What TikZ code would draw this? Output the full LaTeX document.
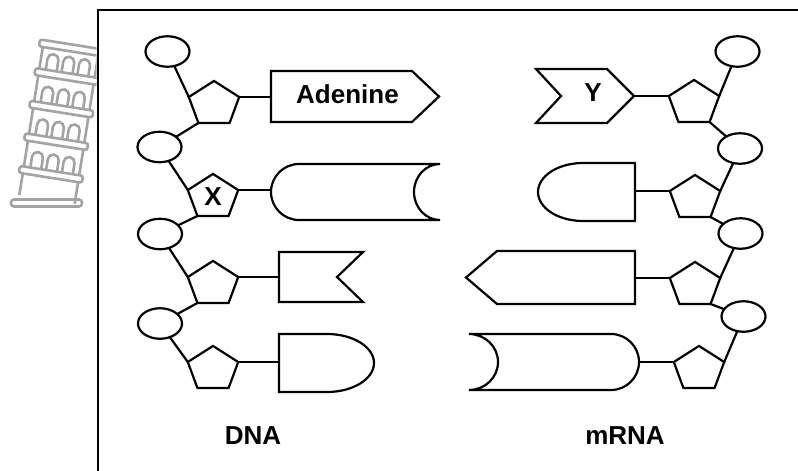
\documentclass[tikz,border=0pt]{standalone}
\usepackage{fontspec}
\setmainfont{Liberation Sans}
\usetikzlibrary{shapes.geometric,calc}

\definecolor{towergray}{RGB}{163,163,163}
\newcommand{\labelfont}{\fontsize{26}{30}\selectfont\bfseries}

\begin{document}
\begin{tikzpicture}[x=1pt, y=-1pt,
  bond/.style={line width=2.2pt},
  outline/.style={draw, line width=2.2pt},
  sugar/.style={draw, line width=2.2pt, regular polygon, regular polygon sides=5,
    minimum size=53pt, inner sep=0pt, outer sep=0pt, transform shape},
  phos/.style={draw, line width=2.2pt, ellipse, minimum width=44pt,
    minimum height=30.5pt, inner sep=0pt, outer sep=0pt},
  basebox/.style={inner sep=0pt, outer sep=0pt, font=\labelfont},
  tower/.style={draw=towergray, line width=2.6pt}
]
\useasboundingbox (0,0) rectangle (798,471);

% ---- leaning tower icon ----
\begin{scope}
  \clip (0,0) rectangle (96.5,471);
  \draw[tower, rounded corners=3pt] (11,199.5) rectangle (82,206.5);
  \begin{scope}[shift={(47,199.5)}, rotate=-9]
    % ground storey
    \draw[tower] (-28,0) -- (-28,-22) (28,0) -- (28,-22);
    % cornice slabs
    \foreach \t in {-22,-55,-88,-121,-150}
      \draw[tower, rounded corners=2.5pt] (-32,\t) rectangle (32,\t-7);
    % arcaded storeys
    \foreach \vb/\vt in {-29/-55,-62/-88,-95/-121,-128/-150}{
      \draw[tower] (-28,\vb) -- (-28,\vt) (28,\vb) -- (28,\vt);
      \foreach \u in {-16,0,16}
        \draw[tower] (\u-5.5,\vb) -- (\u-5.5,\vb-11)
          arc[start angle=180, end angle=360, radius=5.5] -- (\u+5.5,\vb);
    }
  \end{scope}
\end{scope}

% ---- frame ----
\draw[line width=2.2pt] (798,10) -- (98,10) -- (98,471);

% ---- phosphates ----
\node[phos] (c1) at (167.5,51.5) {};
\node[phos] (c2) at (159.5,147) {};
\node[phos] (c3) at (160,234) {};
\node[phos] (c4) at (160,323.5) {};
\node[phos] (r1) at (737.5,51.5) {};
\node[phos] (r2) at (740,148.5) {};
\node[phos] (r3) at (740.5,233.5) {};
\node[phos] (r4) at (743.5,316.5) {};

% ---- sugars (flattened pentagons) ----
\begin{scope}[yscale=0.877]
  \node[sugar] (p1) at (214,{(97+7.2)/0.877}) {};
  \node[sugar] (p2) at (213,{(190+7.2)/0.877}) {};
  \node[sugar] (p3) at (213,{(277+7.2)/0.877}) {};
  \node[sugar] (p4) at (213,{(362+7.2)/0.877}) {};
  \node[sugar] (q1) at (694,{(96+7.2)/0.877}) {};
  \node[sugar] (q2) at (695,{(191+7.2)/0.877}) {};
  \node[sugar] (q3) at (695,{(278+7.2)/0.877}) {};
  \node[sugar] (q4) at (699,{(362+7.2)/0.877}) {};
\end{scope}
\node[basebox] (xlab) at (213,197) {X};

% ---- DNA bases ----
\node[basebox, minimum width=153pt, minimum height=51pt] (b1) at (347.5,94) {Adenine};
\draw[outline] (271,71) -- (412,71) -- (439,96.5) -- (412,122) -- (271,122) -- cycle;

\node[basebox, minimum width=169pt, minimum height=56pt] (b2) at (355.5,192) {};
\draw[outline] (299,164) -- (440,164)
  arc[start angle=270, end angle=90, x radius=26, y radius=28]
  -- (299,220) arc[start angle=90, end angle=270, radius=28] -- cycle;

\node[basebox, minimum width=84pt, minimum height=50pt] (b3) at (321,277) {};
\draw[outline] (279,252) -- (363,252) -- (337,277) -- (363,302) -- (279,302) -- cycle;

\node[basebox, minimum width=95pt, minimum height=58pt] (b4) at (326.5,363) {};
\draw[outline] (279,334) -- (327,334)
  arc[start angle=270, end angle=450, x radius=47, y radius=29]
  -- (279,392) -- cycle;

% ---- mRNA bases ----
\node[basebox, minimum width=82pt, minimum height=54pt] (d1) at (593,93) {Y};
\draw[outline] (536,69) -- (607,69) -- (634,96) -- (607,123) -- (536,123) -- (561,96) -- cycle;

\node[basebox, minimum width=97pt, minimum height=58pt] (d2) at (586.5,192) {};
\draw[outline] (635,163) -- (635,221) -- (583,221)
  arc[start angle=90, end angle=270, x radius=45, y radius=29] -- cycle;

\node[basebox, minimum width=169pt, minimum height=53pt] (d3) at (550.5,277.5) {};
\draw[outline] (635,251) -- (635,304) -- (497,304) -- (466,277.5) -- (497,251) -- cycle;

\node[basebox, minimum width=170pt, minimum height=56pt] (d4) at (554,362) {};
\draw[outline] (469,334) -- (611,334)
  arc[start angle=270, end angle=450, radius=28]
  -- (469,390) arc[start angle=90, end angle=-90, x radius=29, y radius=28] -- cycle;

% ---- DNA backbone and base bonds ----
\draw[bond] (c1) -- (p1.corner 2);
\draw[bond] (p1.corner 3) -- (c2);
\draw[bond] (c2) -- (p2.corner 2);
\draw[bond] (p2.corner 3) -- (c3);
\draw[bond] (c3) -- (p3.corner 2);
\draw[bond] (p3.corner 3) -- (c4);
\draw[bond] (c4) -- (p4.corner 2);
\foreach \i in {1,2,3,4}
  \draw[bond] (p\i.corner 5) -- (p\i.corner 5 -| b\i.west);

% ---- mRNA backbone and base bonds ----
\draw[bond] (r1) -- (q1.corner 5);
\draw[bond] (q1.corner 4) -- (r2);
\draw[bond] (r2) -- (q2.corner 5);
\draw[bond] (q2.corner 4) -- (r3);
\draw[bond] (r3) -- (q3.corner 5);
\draw[bond] (q3.corner 4) -- (r4);
\draw[bond] (r4) -- (q4.corner 5);
\foreach \i in {1,2,3,4}
  \draw[bond] (q\i.corner 2) -- (q\i.corner 2 -| d\i.east);

% ---- strand labels ----
\node[basebox] (dna) at (253,436) {DNA};
\node[basebox] (mrna) at (625,436) {mRNA};
\end{tikzpicture}
\end{document}
